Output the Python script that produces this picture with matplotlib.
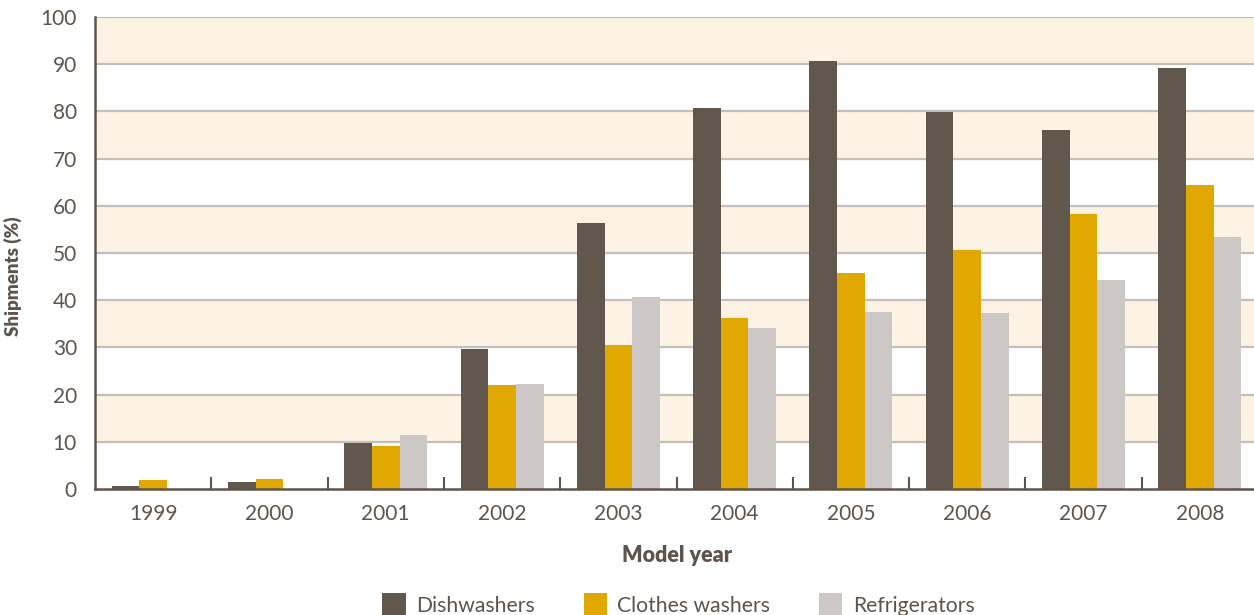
import matplotlib
matplotlib.use('Agg')
import matplotlib.pyplot as plt
import numpy as np
from matplotlib.patches import Patch

# Données
years = ['1999', '2000', '2001', '2002', '2003', '2004', '2005', '2006', '2007', '2008']
dishwashers = [0.6, 1.5, 9.8, 29.7, 56.4, 80.8, 90.7, 79.8, 76.1, 89.2]
clothes_washers = [1.9, 2.1, 9.1, 22.0, 30.5, 36.2, 45.8, 50.6, 58.3, 64.4]
refrigerators = [0.0, 0.0, 11.4, 22.2, 40.7, 34.1, 37.5, 37.3, 44.3, 53.4]
series_names = ['Dishwashers', 'Clothes washers', 'Refrigerators']

colors = ['#61574d', '#e0a800', '#cdc8c5']
text_col = '#5f544b'
band_col = '#fdf3e4'
grid_col = '#c6beb8'

plt.rcParams['font.family'] = ['Lato', 'DejaVu Sans']

fig = plt.figure(figsize=(12.54, 6.15), dpi=100)
ax = fig.add_axes([95 / 1254, 126 / 615, 1163 / 1254, 472 / 615])

# Bandes beiges alternées
for lo in range(10, 100, 20):
    ax.axhspan(lo, lo + 10, color=band_col, zorder=0, lw=0)
for y in range(10, 101, 10):
    ax.axhline(y, color=grid_col, lw=1.6, zorder=1)

x = np.arange(len(years))
w = 0.238
for i, (vals, c) in enumerate(zip([dishwashers, clothes_washers, refrigerators], colors)):
    ax.bar(x + (i - 1) * w, vals, width=w, color=c, zorder=3, lw=0)

ax.set_xlim(-0.5, len(years) - 0.5)
ax.set_ylim(0, 100)
ax.set_yticks(range(0, 101, 10))
ax.set_xticks(x)
ax.set_xticklabels(years)
ax.set_xticks(np.arange(0.5, len(years) - 1, 1), minor=True)

for s in ['top', 'right']:
    ax.spines[s].set_visible(False)
for s in ['left', 'bottom']:
    ax.spines[s].set_color(text_col)
    ax.spines[s].set_linewidth(1.8)
    ax.spines[s].set_zorder(4)

ax.tick_params(axis='both', which='major', length=0, labelsize=15, labelcolor=text_col, pad=11)
ax.tick_params(axis='y', pad=13)
ax.tick_params(axis='x', which='minor', direction='in', length=8.5, width=1.5, color=text_col)

ax.set_ylabel('Shipments (%)', fontsize=13.5, fontweight='heavy', color=text_col)
ax.yaxis.set_label_coords(-0.063, 0.45)
ax.set_xlabel('Model year', fontsize=15.5, fontweight='heavy', color=text_col, labelpad=15)

handles = [Patch(facecolor=c, edgecolor='none') for c in colors]
fig.legend(handles, series_names, loc='lower center', bbox_to_anchor=(0.541, -0.035), ncol=3,
           frameon=False, fontsize=15.2, labelcolor=text_col, handlelength=1.1, handleheight=1.4,
           handletextpad=0.5, columnspacing=2.3)

fig.savefig('out.png', dpi=100)
